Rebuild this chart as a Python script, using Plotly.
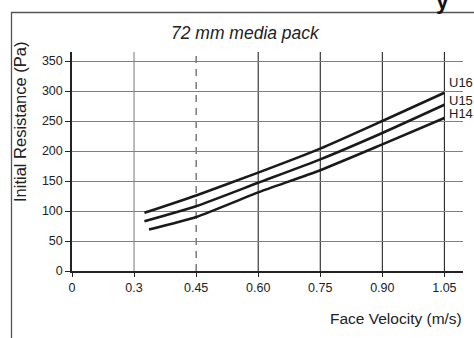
import plotly.graph_objects as go

# ---- data ----
series_names = ["U16", "U15", "H14"]
u16_x = [0.325, 0.45, 0.60, 0.75, 0.90, 1.05]
u16_y = [97, 126, 164, 204, 250, 297]
u15_x = [0.325, 0.45, 0.60, 0.75, 0.90, 1.05]
u15_y = [83, 108, 147, 186, 230, 277]
h14_x = [0.336, 0.45, 0.60, 0.75, 0.90, 1.05]
h14_y = [69, 90, 131, 168, 211, 255]

x_tick_vals = [0.15, 0.30, 0.45, 0.60, 0.75, 0.90, 1.05]
x_tick_text = ["0", "0.3", "0.45", "0.60", "0.75", "0.90", "1.05"]
y_tick_vals = [0, 50, 100, 150, 200, 250, 300, 350]
solid_vlines = [0.60, 0.75, 0.90, 1.05]
light_vlines = [0.30]
dashed_vlines = [0.45]

title_text = "72 mm media pack"
x_title = "Face Velocity (m/s)"
y_title = "Initial Resistance (Pa)"

# ---- layout geometry (pixels) ----
W, H = 474, 338
ML, MR, MT, MB = 72, 11, 52, 67
PW, PH = W - ML - MR, H - MT - MB


def px(xp):
    return (xp - ML) / PW


def py(yp):
    return (H - MB - yp) / PH


FONT = "Liberation Sans, Arial, Helvetica, sans-serif"
LINE = "#1a1a1a"

label_shift = {"U16": 10, "U15": 4, "H14": 5}

fig = go.Figure()
for name, xs, ys in [("U16", u16_x, u16_y), ("U15", u15_x, u15_y), ("H14", h14_x, h14_y)]:
    fig.add_trace(go.Scatter(x=xs, y=ys, mode="lines", name=name,
                             line=dict(color=LINE, width=2.6, shape="spline", smoothing=0.6),
                             showlegend=False, hoverinfo="skip"))
    fig.add_annotation(x=xs[-1], y=ys[-1], text=name, showarrow=False,
                       xanchor="left", yanchor="middle", xshift=3, yshift=label_shift[name],
                       font=dict(family=FONT, size=13, color="#222"))

shapes = []
for v in solid_vlines:
    shapes.append(dict(type="line", xref="x", yref="y domain", x0=v, x1=v, y0=0, y1=1,
                       line=dict(color="#111", width=1), layer="below"))
for v in light_vlines:
    shapes.append(dict(type="line", xref="x", yref="y domain", x0=v, x1=v, y0=0, y1=1,
                       line=dict(color="#777", width=1), layer="below"))
for v in dashed_vlines:
    shapes.append(dict(type="line", xref="x", yref="y domain", x0=v, x1=v, y0=0, y1=1,
                       line=dict(color="#333", width=1, dash="7px,6px"), layer="below"))
# outer frame (continues past the image edges)
shapes.append(dict(type="rect", xref="paper", yref="paper",
                   x0=px(11.5), x1=px(480), y0=py(345), y1=py(12.5),
                   line=dict(color="#555", width=1.3), fillcolor="rgba(0,0,0,0)", layer="below"))

fig.update_layout(
    width=W, height=H,
    margin=dict(l=ML, r=MR, t=MT, b=MB),
    paper_bgcolor="white", plot_bgcolor="white",
    shapes=shapes,
    xaxis=dict(range=[0.15, 1.095], tickmode="array", tickvals=x_tick_vals, ticktext=x_tick_text,
               showgrid=False, zeroline=False, showline=True, linecolor="#222", linewidth=1.5,
               ticks="outside", ticklen=4, tickcolor="#222", tickwidth=1,
               tickfont=dict(family=FONT, size=12.5, color="#222")),
    yaxis=dict(range=[0, 365], tickmode="array", tickvals=y_tick_vals,
               showgrid=True, gridcolor="#808080", gridwidth=1, zeroline=False,
               showline=True, linecolor="#222", linewidth=1.5,
               ticks="outside", ticklen=5, tickcolor="#222", tickwidth=1,
               tickfont=dict(family=FONT, size=12.5, color="#222")),
)

fig.add_annotation(xref="paper", yref="paper", x=px(245), y=py(33), text=f"<i>{title_text}</i>",
                   showarrow=False, xanchor="center", yanchor="middle",
                   font=dict(family=FONT, size=17.5, color="#222"))
fig.add_annotation(xref="paper", yref="paper", x=px(464), y=py(318), text=x_title,
                   showarrow=False, xanchor="right", yanchor="middle",
                   font=dict(family=FONT, size=15.5, color="#222"))
fig.add_annotation(xref="paper", yref="paper", x=px(20), y=py(122), text=y_title,
                   textangle=-90, showarrow=False, xanchor="center", yanchor="middle",
                   font=dict(family=FONT, size=16.5, color="#222"))
# clipped fragment of a heading above the frame
fig.add_annotation(xref="paper", yref="paper", x=px(442), y=py(1), text="<b>y</b>",
                   showarrow=False, xanchor="center", yanchor="middle",
                   font=dict(family=FONT, size=23, color="#111"))

fig.write_html("out.html", config={"displayModeBar": False},
               post_script="document.body.style.margin='0';document.body.style.padding='0';")
